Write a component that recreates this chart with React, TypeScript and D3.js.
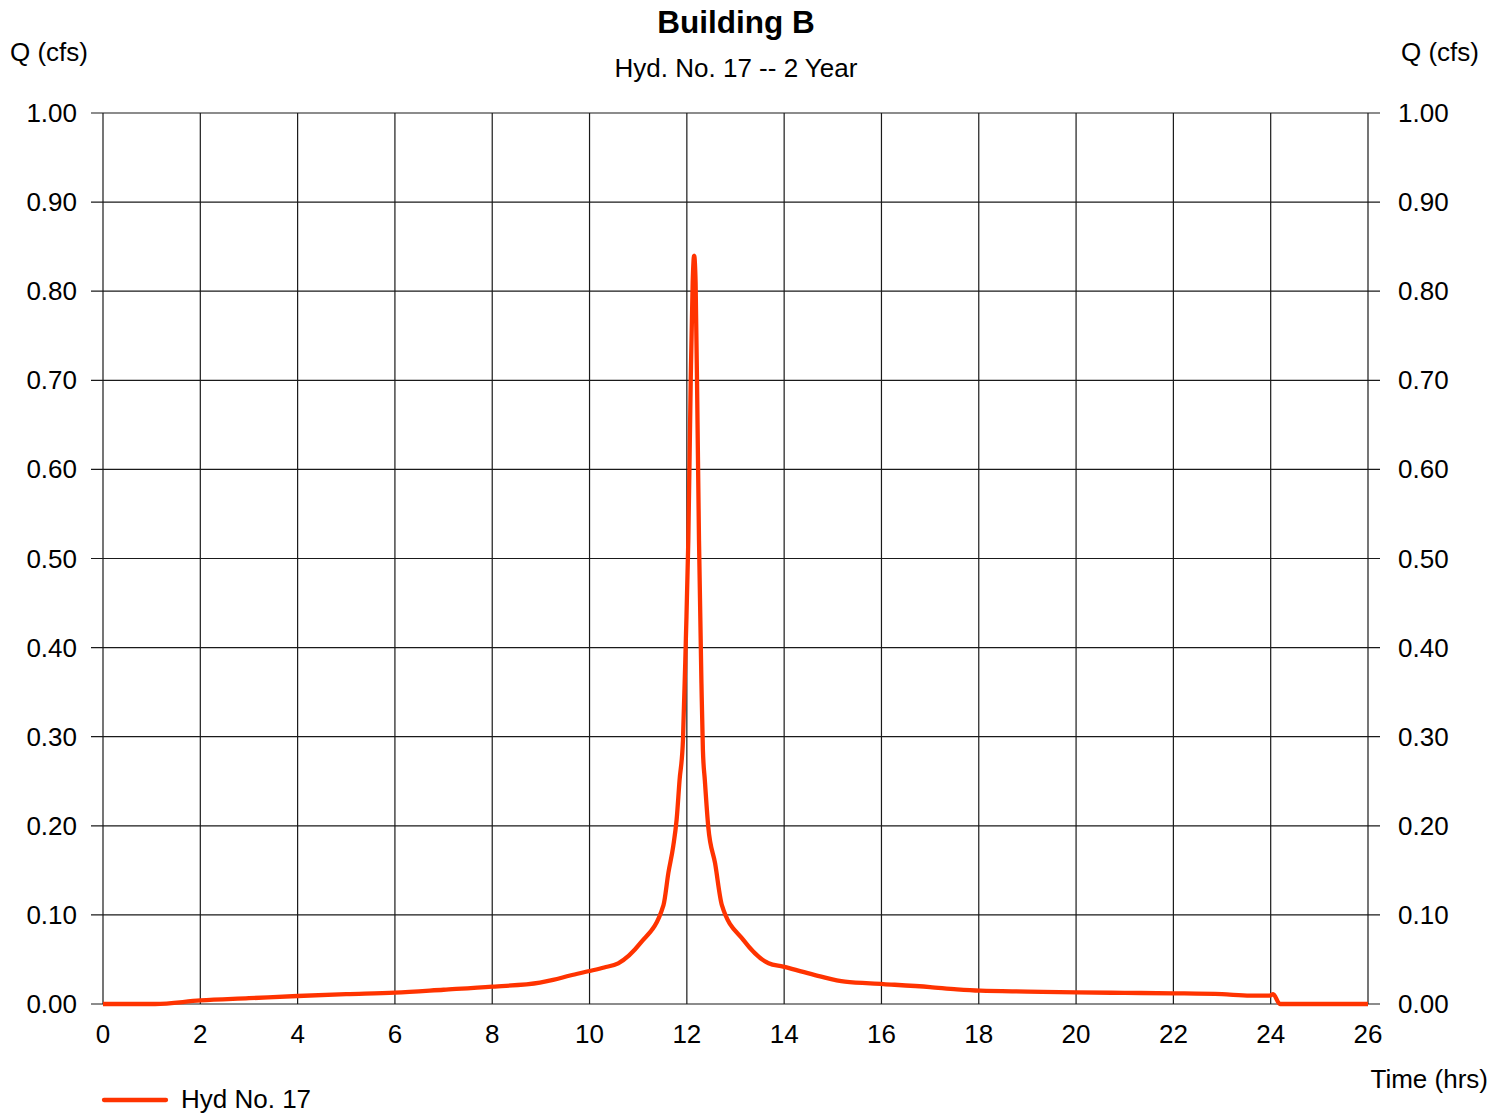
import React from "react";
import * as d3 from "d3";

const title = "Building B";
const subtitle = "Hyd. No. 17 -- 2 Year";
const yLabel = "Q (cfs)";
const xLabel = "Time (hrs)";
const seriesName = "Hyd No. 17";

const xTicks = [0, 2, 4, 6, 8, 10, 12, 14, 16, 18, 20, 22, 24, 26];
const yTicks = [0, 0.1, 0.2, 0.3, 0.4, 0.5, 0.6, 0.7, 0.8, 0.9, 1.0];

const times = [
  0, 1.07, 2, 3, 4, 5, 6, 7, 8, 8.98, 9.25, 9.6, 10, 10.3, 10.59, 11.04, 11.52, 11.62, 11.72, 11.79,
  11.85, 11.92, 11.98, 12.03, 12.08, 12.12, 12.15, 12.18, 12.22, 12.25, 12.3, 12.33, 12.37, 12.44,
  12.58, 12.72, 13.16, 13.68, 13.98, 14.39, 14.74, 15.25, 16.04, 17.0, 17.55, 18.03, 19.0, 20.01, 21.0,
  22.0, 23.0, 23.58, 23.98, 24.05, 24.19, 26,
];
const flows = [
  0, 0, 0.004, 0.0065, 0.009, 0.011, 0.0127, 0.016, 0.0195, 0.024, 0.027, 0.032, 0.037, 0.041, 0.0457,
  0.068, 0.111, 0.147, 0.177, 0.207, 0.251, 0.296, 0.41, 0.52, 0.7, 0.81, 0.84, 0.81, 0.65, 0.52,
  0.36, 0.285, 0.251, 0.199, 0.158, 0.111, 0.072, 0.0457, 0.042, 0.036, 0.031, 0.025, 0.0224, 0.019,
  0.0165, 0.015, 0.014, 0.013, 0.0125, 0.012, 0.011, 0.0095, 0.0095, 0.011, 0, 0,
];

export default function App() {
  const width = 1504;
  const height = 1114;
  const left = 103;
  const right = 1368;
  const top = 113;
  const bottom = 1004;

  const x = d3.scaleLinear().domain([0, 26]).range([left, right]);
  const y = d3.scaleLinear().domain([0, 1]).range([bottom, top]);

  const data = times.map((t, i) => [t, flows[i]] as [number, number]);
  const line = d3
    .line<[number, number]>()
    .x((d) => x(d[0]))
    .y((d) => y(d[1]))
    .curve(d3.curveMonotoneX);

  const font = "'Liberation Sans', Arial, sans-serif";
  const color = "#ff3300";
  const fs = 26;

  return (
    <svg
      width={width}
      height={height}
      style={{ position: "absolute", left: 0, top: 0, background: "#fff" }}
      fontFamily={font}
    >
      <rect x={0} y={0} width={width} height={height} fill="#fff" />
      <text x={736} y={33} textAnchor="middle" fontSize={31.5} fontWeight="bold" fill="#000">
        {title}
      </text>
      <text x={736} y={77} textAnchor="middle" fontSize={fs} fill="#000">
        {subtitle}
      </text>
      <text x={10} y={61} fontSize={fs} fill="#000">
        {yLabel}
      </text>
      <text x={1479} y={61} textAnchor="end" fontSize={fs} fill="#000">
        {yLabel}
      </text>

      {/* horizontal grid lines + ticks */}
      {yTicks.map((v) => (
        <g key={"y" + v}>
          <line x1={left - 12} x2={right + 12} y1={y(v)} y2={y(v)} stroke="#1a1a1a" strokeWidth={1.2} />
          <text x={77} y={y(v) + 9} textAnchor="end" fontSize={fs} fill="#000">
            {v.toFixed(2)}
          </text>
          <text x={1398} y={y(v) + 9} textAnchor="start" fontSize={fs} fill="#000">
            {v.toFixed(2)}
          </text>
        </g>
      ))}

      {/* vertical grid lines + labels */}
      {xTicks.map((v) => (
        <g key={"x" + v}>
          <line x1={x(v)} x2={x(v)} y1={top} y2={bottom} stroke="#1a1a1a" strokeWidth={1.2} />
          <text x={x(v)} y={1043} textAnchor="middle" fontSize={fs} fill="#000">
            {v}
          </text>
        </g>
      ))}

      <text x={1488} y={1088} textAnchor="end" fontSize={fs} fill="#000">
        {xLabel}
      </text>

      <path d={line(data) || ""} fill="none" stroke={color} strokeWidth={4.3} strokeLinejoin="round" />

      {/* legend */}
      <line x1={104} x2={166} y1={1100} y2={1100} stroke={color} strokeWidth={4.3} strokeLinecap="round" />
      <text x={181} y={1108} fontSize={fs} fill="#000">
        {seriesName}
      </text>
    </svg>
  );
}
